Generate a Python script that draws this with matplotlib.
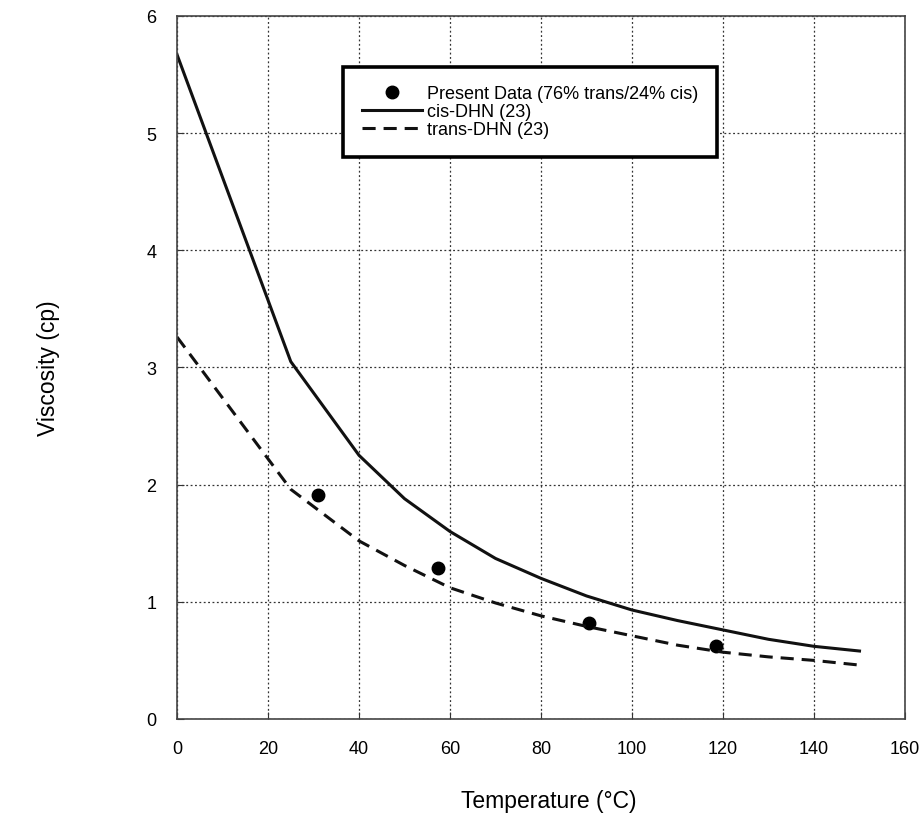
import matplotlib.pyplot as plt

plt.rcParams['font.family'] = ['Liberation Sans', 'DejaVu Sans']

# present data (76% trans / 24% cis)
data_t = [30.9, 57.4, 90.5, 118.5]
data_v = [1.91, 1.29, 0.82, 0.62]

# cis-DHN (23)
cis_t = [0, 25, 40, 50, 60, 70, 80, 90, 100, 110, 120, 130, 140, 150]
cis_v = [5.67, 3.05, 2.25, 1.88, 1.60, 1.37, 1.20, 1.05, 0.93, 0.84, 0.76, 0.68, 0.62, 0.58]

# trans-DHN (23)
trans_t = [0, 25, 40, 50, 60, 70, 80, 90, 100, 110, 120, 130, 140, 150]
trans_v = [3.26, 1.96, 1.52, 1.31, 1.12, 0.99, 0.88, 0.79, 0.71, 0.63, 0.57, 0.53, 0.50, 0.46]

fig = plt.figure(figsize=(9.23, 8.37), dpi=100)
ax = fig.add_axes([0.1918, 0.1398, 0.7887, 0.8400])

ax.plot(data_t, data_v, 'o', color='black', markersize=9, label='Present Data (76% trans/24% cis)')
ax.plot(cis_t, cis_v, '-', color='#111111', lw=2.2, label='cis-DHN (23)')
ax.plot(trans_t, trans_v, '--', color='#111111', lw=2.2, dashes=(4.3, 2.6), label='trans-DHN (23)')

ax.set_xlim(0, 160)
ax.set_ylim(0, 6)
ax.set_xticks(range(0, 161, 20))
ax.set_yticks(range(0, 7))
ax.grid(True, linestyle=(0, (1.5, 2)), color='#333333', lw=0.9)
ax.tick_params(direction='in', length=5, labelsize=13, pad=15, color='#333333')
for s in ax.spines.values():
    s.set_color('#444444')
    s.set_linewidth(1.2)

ax.set_xlabel('Temperature (°C)', fontsize=16.5)
ax.xaxis.set_label_coords(0.51, -0.10)
ax.set_ylabel('Viscosity (cp)', fontsize=16.5, labelpad=62)

leg = ax.legend(loc='upper left', bbox_to_anchor=(0.228, 0.928), fontsize=13,
                frameon=True, fancybox=False, handlelength=3.3, handletextpad=0.3,
                labelspacing=0.05, borderpad=1.05, borderaxespad=0)
leg.get_frame().set_edgecolor('black')
leg.get_frame().set_linewidth(2.6)
leg.get_frame().set_alpha(1)

fig.savefig('out.png', dpi=100)
